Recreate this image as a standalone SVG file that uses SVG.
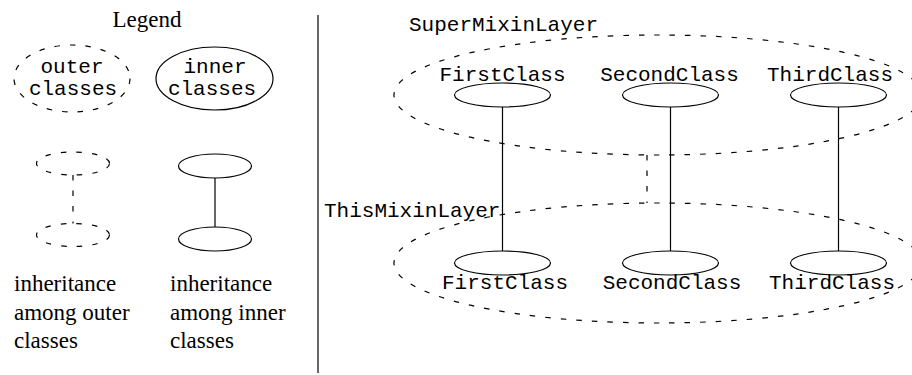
<svg xmlns="http://www.w3.org/2000/svg" width="912" height="375" viewBox="0 0 912 375">
  <style>
    .solid { fill: none; stroke: #000; stroke-width: 1.2; }
    .dashed { fill: none; stroke: #000; stroke-width: 1.2; stroke-dasharray: 5.5 10; }
    .mono { font-family: "Liberation Mono", "Courier New", monospace; font-size: 21px; fill: #000; }
    .serif { font-family: "Liberation Serif", "Times New Roman", serif; font-size: 23px; fill: #000; }
  </style>
  <rect width="912" height="375" fill="#fff"/>

  <!-- Legend panel -->
  <g id="legend">
    <text class="serif" x="147" y="27" text-anchor="middle">Legend</text>
    <g id="legend-outer">
      <ellipse class="dashed" cx="72" cy="78.5" rx="58" ry="33.5"/>
      <text class="mono" x="72" y="73" text-anchor="middle">outer</text>
      <text class="mono" x="73" y="95" text-anchor="middle">classes</text>
    </g>
    <g id="legend-inner">
      <ellipse class="solid" cx="214.5" cy="78.5" rx="58.5" ry="31.5"/>
      <text class="mono" x="215" y="73" text-anchor="middle">inner</text>
      <text class="mono" x="212" y="95" text-anchor="middle">classes</text>
    </g>
    <g id="legend-outer-inheritance">
      <ellipse class="dashed" cx="73" cy="163.5" rx="36.5" ry="11.5"/>
      <ellipse class="dashed" cx="73" cy="235" rx="36.5" ry="11.5"/>
      <line class="dashed" x1="73" y1="175" x2="73" y2="223.5"/>
      <text class="serif" x="14" y="291">inheritance</text>
      <text class="serif" x="14" y="320">among outer</text>
      <text class="serif" x="14" y="348">classes</text>
    </g>
    <g id="legend-inner-inheritance">
      <ellipse class="solid" cx="215" cy="166" rx="36.5" ry="12"/>
      <ellipse class="solid" cx="215" cy="239" rx="36.5" ry="12"/>
      <line class="solid" x1="215" y1="178" x2="215" y2="227"/>
      <text class="serif" x="170" y="291">inheritance</text>
      <text class="serif" x="170" y="320">among inner</text>
      <text class="serif" x="170" y="348">classes</text>
    </g>
  </g>

  <!-- panel separator -->
  <line class="solid" x1="318" y1="15" x2="318" y2="373" stroke-width="1.4"/>

  <!-- mixin layers (outer classes) -->
  <g id="super-mixin-layer">
    <ellipse class="dashed" cx="658" cy="95" rx="264" ry="60"/>
    <text class="mono" x="409" y="31">SuperMixinLayer</text>
  </g>
  <g id="this-mixin-layer">
    <ellipse class="dashed" cx="658" cy="263" rx="264" ry="60"/>
    <text class="mono" x="324" y="217">ThisMixinLayer</text>
  </g>

  <!-- inner classes of SuperMixinLayer -->
  <g id="super-first">
    <ellipse class="solid" cx="502.5" cy="95" rx="48" ry="12"/>
    <text class="mono" x="502.5" y="81" text-anchor="middle">FirstClass</text>
  </g>
  <g id="super-second">
    <ellipse class="solid" cx="670.5" cy="95" rx="48" ry="12"/>
    <text class="mono" x="669.5" y="81" text-anchor="middle">SecondClass</text>
  </g>
  <g id="super-third">
    <ellipse class="solid" cx="838.5" cy="95" rx="48" ry="12"/>
    <text class="mono" x="830" y="81" text-anchor="middle">ThirdClass</text>
  </g>

  <!-- inner classes of ThisMixinLayer -->
  <g id="this-first">
    <ellipse class="solid" cx="502.5" cy="263" rx="48" ry="12"/>
    <text class="mono" x="505" y="289" text-anchor="middle">FirstClass</text>
  </g>
  <g id="this-second">
    <ellipse class="solid" cx="670.5" cy="263" rx="48" ry="12"/>
    <text class="mono" x="672" y="289" text-anchor="middle">SecondClass</text>
  </g>
  <g id="this-third">
    <ellipse class="solid" cx="838.5" cy="263" rx="48" ry="12"/>
    <text class="mono" x="832" y="289" text-anchor="middle">ThirdClass</text>
  </g>

  <!-- inheritance connectors -->
  <g id="connectors">
    <line class="dashed" x1="647" y1="155" x2="647" y2="203"/>
    <line class="solid" x1="502.5" y1="107" x2="502.5" y2="251"/>
    <line class="solid" x1="670.5" y1="107" x2="670.5" y2="251"/>
    <line class="solid" x1="838.5" y1="107" x2="838.5" y2="251"/>
  </g>
</svg>
